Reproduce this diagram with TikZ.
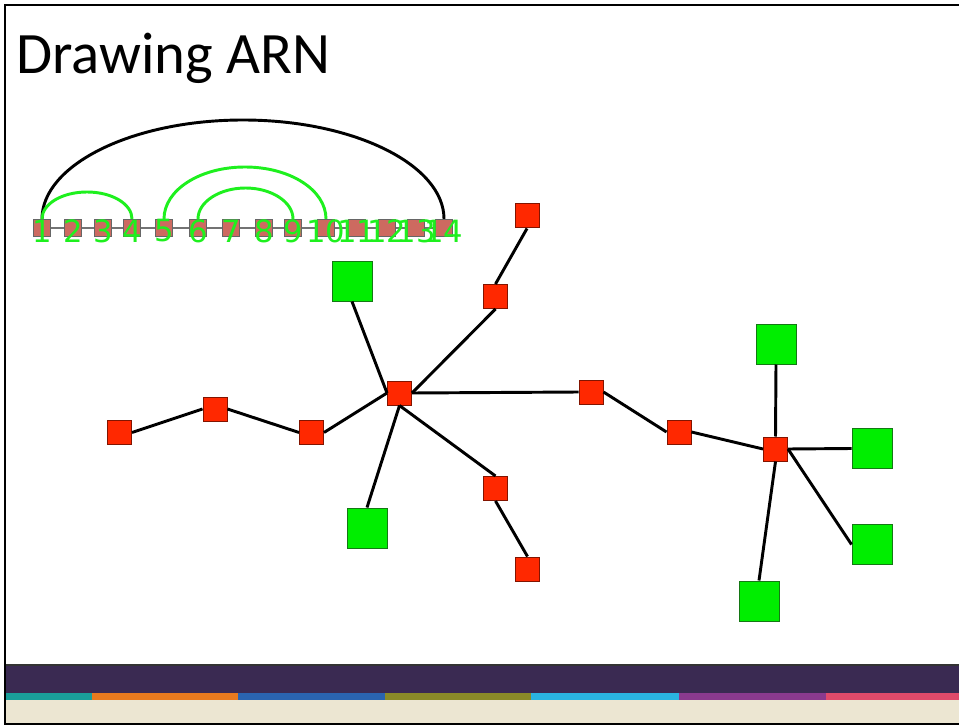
\documentclass[tikz,border=0pt]{standalone}
\usepackage{fontspec}
\newfontfamily\titlefont{Carlito}
\newfontfamily\labfont{DejaVu Sans}
\definecolor{nodered}{RGB}{255,40,0}
\definecolor{nodereddark}{RGB}{130,20,0}
\definecolor{nodegreen}{RGB}{0,238,0}
\definecolor{nodegreendark}{RGB}{20,120,20}
\definecolor{rnafill}{RGB}{205,106,96}
\definecolor{labgreen}{RGB}{30,240,30}
\definecolor{darkband}{RGB}{58,42,82}
\definecolor{creamband}{RGB}{236,230,210}
\definecolor{sTeal}{RGB}{26,158,154}
\definecolor{sOrange}{RGB}{232,122,30}
\definecolor{sBlue}{RGB}{42,100,176}
\definecolor{sOlive}{RGB}{138,138,40}
\definecolor{sCyan}{RGB}{42,180,224}
\definecolor{sPurple}{RGB}{138,58,142}
\definecolor{sPink}{RGB}{224,74,106}
\begin{document}
\begin{tikzpicture}[x=0.75pt,y=-0.75pt,
  redbox/.style={draw=nodereddark,fill=nodered,line width=0.75pt,minimum size=18pt,inner sep=0pt},
  greenbox/.style={draw=nodegreendark,fill=nodegreen,line width=0.75pt,minimum size=30pt,inner sep=0pt},
  rnabox/.style={draw=black!60,fill=rnafill,line width=0.6pt,minimum size=13pt,inner sep=0pt},
  rnalab/.style={text=labgreen,font=\labfont\fontsize{23}{23}\selectfont,inner sep=0pt},
  backbone/.style={draw=black!55,line width=0.8pt},
  edge/.style={draw=black,line width=2.2pt},
  pairarc/.style={draw=labgreen,line width=2.2pt},
  bigarc/.style={draw=black,line width=2.2pt}]
\useasboundingbox (0,0) rectangle (959,727);
\fill[white] (0,0) rectangle (959,727);
% footer
\fill[darkband] (5,665) rectangle (962,693);
\draw[black!80,line width=0.8pt] (5,665) -- (962,665);
\fill[sTeal] (5,693) rectangle (92,700);
\fill[sOrange] (92,693) rectangle (238,700);
\fill[sBlue] (238,693) rectangle (385,700);
\fill[sOlive] (385,693) rectangle (531,700);
\fill[sCyan] (531,693) rectangle (679,700);
\fill[sPurple] (679,693) rectangle (826,700);
\fill[sPink] (826,693) rectangle (962,700);
\fill[creamband] (5,700) rectangle (962,723);
\draw[black,line width=1.8pt] (5,5) rectangle (962,724);
% title
\node[anchor=base west,inner sep=0pt,font=\titlefont\fontsize{44}{44}\selectfont] (title) at (16,74) {Drawing ARN};
% RNA strand
\foreach \i/\x in {1/42,2/73,3/103,4/132,5/164,6/198,7/231,8/264,9/293,10/326,11/357,12/387,13/416,14/444}
  \node[rnabox] (r\i) at (\x,228) {};
\foreach \i [evaluate=\i as \j using int(\i+1)] in {1,...,13}
  \draw[backbone] (r\i.east) -- (r\j.west);
\coordinate (t1) at (243,120);
\coordinate (t2) at (87,192);
\coordinate (t3) at (245,167);
\coordinate (t4) at (245.5,188);
\draw[bigarc] (r1.north) .. controls +(0,-54) and +(-111,0) .. (t1) .. controls +(111,0) and +(0,-54) .. (r14.north);
\draw[pairarc] (r1.north) .. controls +(0,-15) and +(-25,0) .. (t2) .. controls +(25,0) and +(0,-15) .. (r4.north);
\draw[pairarc] (r5.north) .. controls +(0,-29) and +(-45,0) .. (t3) .. controls +(45,0) and +(0,-29) .. (r10.north);
\draw[pairarc] (r6.north) .. controls +(0,-17) and +(-26,0) .. (t4) .. controls +(26,0) and +(0,-17) .. (r9.north);
\foreach \i/\x in {1/42,2/73,3/103,4/132,5/164,6/198,7/231,8/264,9/293,10/326,11/357,12/387,13/416,14/444}
  \node[rnalab] (l\i) at (\x,231) {\i};
% tree
\node[redbox] (A) at (119.5,432.5) {};
\node[redbox] (B) at (215,409) {};
\node[redbox] (C) at (311.5,432.5) {};
\node[redbox] (D) at (399.5,393) {};
\node[redbox] (E) at (495.5,296.5) {};
\node[redbox] (F) at (527,216) {};
\node[redbox] (G) at (591,392) {};
\node[redbox] (H) at (679,432) {};
\node[redbox] (I) at (775.5,449) {};
\node[redbox] (J) at (495.5,488.5) {};
\node[redbox] (K) at (527.5,569) {};
\node[greenbox] (G1) at (352,281) {};
\node[greenbox] (G2) at (367,528) {};
\node[greenbox] (G3) at (776,344) {};
\node[greenbox] (G4) at (872,448.5) {};
\node[greenbox] (G5) at (872,544.5) {};
\node[greenbox] (G6) at (759,601) {};
\draw[edge] (A.east) -- (B.west);
\draw[edge] (B.east) -- (C.west);
\draw[edge] (C.east) -- (D.west);
\draw[edge] (G1.south) -- (D.west);
\draw[edge] (D.east) -- (E.south);
\draw[edge] (E.north) -- (F.south);
\draw[edge] (D.east) -- (G.west);
\draw[edge] (G.east) -- (H.west);
\draw[edge] (H.east) -- (I.west);
\draw[edge] (D.south) -- (G2.north);
\draw[edge] (D.south) -- (J.north);
\draw[edge] (J.south) -- (K.north);
\draw[edge] (I.north) -- (G3.south);
\draw[edge] (I.east) -- (G4.west);
\draw[edge] (I.east) -- (G5.west);
\draw[edge] (I.south) -- (G6.north);
\end{tikzpicture}
\end{document}
